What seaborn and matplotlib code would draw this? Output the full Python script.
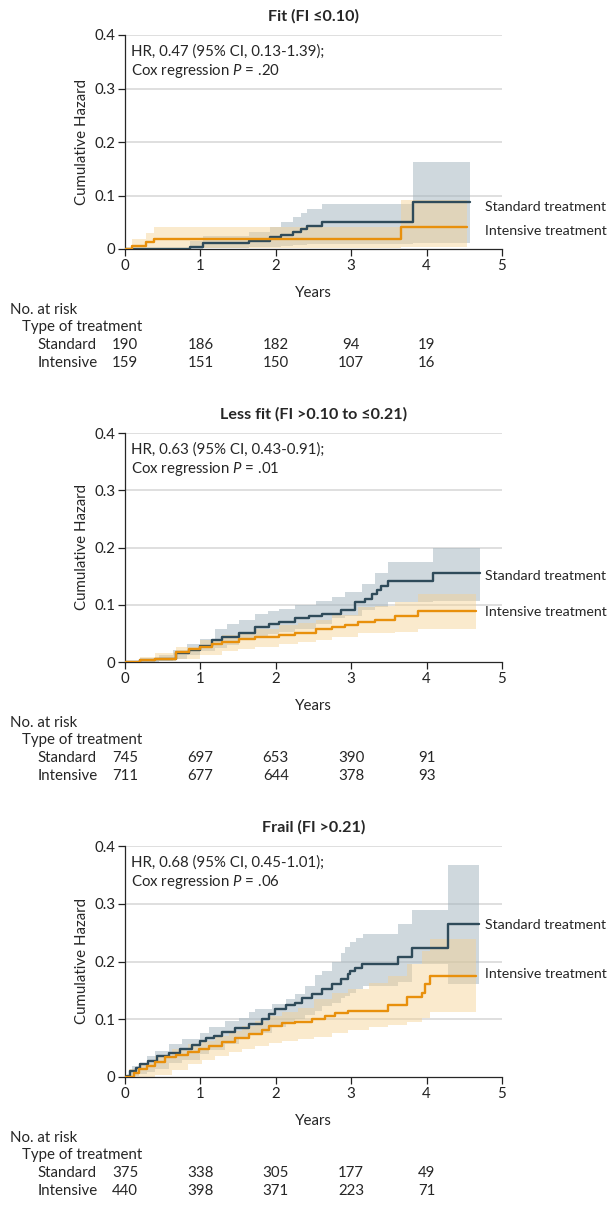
import numpy as np
import matplotlib
matplotlib.use("Agg")
import matplotlib.pyplot as plt
import matplotlib.transforms as mtrans
import pandas as pd
import seaborn as sns

sns.set_style("ticks")
plt.rcParams["font.family"] = ["Lato", "DejaVu Sans"]
plt.rcParams["mathtext.fontset"] = "custom"
plt.rcParams["mathtext.it"] = "Lato:italic"
plt.rcParams["mathtext.rm"] = "Lato"
plt.rcParams["axes.linewidth"] = 0.9
plt.rcParams["xtick.major.width"] = 0.9
plt.rcParams["ytick.major.width"] = 0.9

####data####
titles = ["Fit (FI \u22640.10)", "Less fit (FI >0.10 to \u22640.21)", "Frail (FI >0.21)"]
hr_text = ["HR, 0.47 (95% CI, 0.13-1.39);", "HR, 0.63 (95% CI, 0.43-0.91);", "HR, 0.68 (95% CI, 0.45-1.01);"]
p_text = [".20", ".01", ".06"]
risk_years = [0, 1, 2, 3, 4]
risk_std = [[190, 186, 182, 94, 19], [745, 697, 653, 390, 91], [375, 338, 305, 177, 49]]
risk_int = [[159, 151, 150, 107, 16], [711, 677, 644, 378, 93], [440, 398, 371, 223, 71]]

# fit
fit_std_t = [0, 0.86, 1.03, 1.65, 1.92, 2.07, 2.23, 2.33, 2.41, 2.61, 3.82, 4.58]
fit_std_y = [0, 0.004, 0.011, 0.015, 0.022, 0.027, 0.032, 0.038, 0.043, 0.051, 0.087, 0.087]
fit_std_ci_t = [0.86, 1.03, 1.65, 1.92, 2.07, 2.23, 2.33, 2.41, 2.61, 3.82, 4.58]
fit_std_hi = [0.015, 0.024, 0.032, 0.042, 0.051, 0.059, 0.067, 0.074, 0.084, 0.162, 0.162]
fit_std_lo = [0.0, 0.002, 0.003, 0.004, 0.005, 0.007, 0.008, 0.009, 0.010, 0.011, 0.011]
fit_int_t = [0, 0.09, 0.28, 0.39, 3.66, 4.53]
fit_int_y = [0, 0.006, 0.0125, 0.019, 0.042, 0.042]
fit_int_ci_t = [0.09, 0.28, 0.39, 3.66, 4.53]
fit_int_hi = [0.019, 0.029, 0.041, 0.092, 0.092]
fit_int_lo = [0.0, 0.001, 0.002, 0.004, 0.004]

# less fit
lf_std_t = [0, 0.05, 0.2, 0.4, 0.67, 0.85, 1.0, 1.15, 1.29, 1.51, 1.73, 1.91, 2.04, 2.26, 2.44, 2.61,
            2.87, 3.05, 3.18, 3.27, 3.34, 3.40, 3.49, 4.08, 4.71]
lf_std_y = [0, 0.0, 0.003, 0.006, 0.015, 0.021, 0.028, 0.038, 0.044, 0.051, 0.061, 0.067, 0.070, 0.076,
            0.081, 0.084, 0.090, 0.104, 0.110, 0.119, 0.125, 0.133, 0.141, 0.155, 0.155]
lf_std_ci_t = [0, 0.23, 0.45, 0.63, 0.82, 1.0, 1.2, 1.35, 1.51, 1.73, 1.9, 2.04, 2.26, 2.53, 2.74, 2.92,
               3.14, 3.32, 3.49, 4.08, 4.71]
lf_std_hi = [0.002, 0.006, 0.013, 0.021, 0.031, 0.041, 0.058, 0.066, 0.073, 0.084, 0.089, 0.093, 0.100,
             0.106, 0.113, 0.122, 0.136, 0.156, 0.174, 0.199, 0.199]
lf_std_lo = [0, 0.0, 0.002, 0.006, 0.012, 0.019, 0.024, 0.029, 0.038, 0.044, 0.049, 0.053, 0.058, 0.067,
             0.076, 0.081, 0.09, 0.096, 0.104, 0.107, 0.107]
lf_int_t = [0, 0.2, 0.4, 0.67, 0.85, 1.0, 1.15, 1.29, 1.51, 1.73, 2.04, 2.26, 2.53, 2.74, 2.92, 3.09,
            3.32, 3.58, 3.89, 4.66]
lf_int_y = [0, 0.003, 0.006, 0.017, 0.022, 0.027, 0.031, 0.035, 0.041, 0.044, 0.048, 0.051, 0.057,
            0.061, 0.064, 0.070, 0.074, 0.080, 0.089, 0.089]
lf_int_ci_t = [0, 0.2, 0.4, 0.67, 1.0, 1.29, 1.5, 1.73, 2.04, 2.3, 2.53, 2.74, 3.09, 3.32, 3.58, 3.89, 4.66]
lf_int_hi = [0.002, 0.008, 0.015, 0.027, 0.038, 0.047, 0.053, 0.058, 0.064, 0.068, 0.073, 0.082, 0.096,
             0.098, 0.104, 0.119, 0.119]
lf_int_lo = [0, 0.0, 0.002, 0.006, 0.012, 0.019, 0.023, 0.027, 0.031, 0.035, 0.038, 0.044, 0.05, 0.051,
             0.052, 0.058, 0.058]

# frail
fr_std_t = [0, 0.03, 0.07, 0.14, 0.2, 0.31, 0.42, 0.58, 0.73, 0.89, 1.0, 1.07, 1.18, 1.29, 1.46, 1.64,
            1.82, 1.91, 1.99, 2.13, 2.26, 2.35, 2.48, 2.61, 2.74, 2.87, 2.96, 2.98, 3.05, 3.14, 3.62,
            3.81, 4.29, 4.69]
fr_std_y = [0, 0.001, 0.01, 0.016, 0.022, 0.028, 0.037, 0.042, 0.049, 0.055, 0.063, 0.068, 0.071, 0.078,
            0.084, 0.092, 0.100, 0.109, 0.118, 0.124, 0.129, 0.136, 0.144, 0.152, 0.161, 0.170, 0.178,
            0.184, 0.189, 0.196, 0.208, 0.224, 0.265, 0.265]
fr_std_ci_t = [0, 0.05, 0.09, 0.18, 0.29, 0.40, 0.58, 0.76, 1.0, 1.11, 1.33, 1.51, 1.64, 1.73, 1.95, 2.13,
               2.26, 2.39, 2.52, 2.61, 2.74, 2.87, 2.92, 2.98, 3.07, 3.16, 3.62, 3.81, 4.29, 4.69]
fr_std_hi = [0.003, 0.01, 0.019, 0.025, 0.037, 0.045, 0.057, 0.066, 0.077, 0.086, 0.097, 0.103, 0.112,
             0.118, 0.126, 0.135, 0.144, 0.158, 0.176, 0.184, 0.199, 0.215, 0.225, 0.234, 0.24, 0.248,
             0.265, 0.289, 0.367, 0.367]
fr_std_lo = [0, 0.0, 0.002, 0.005, 0.009, 0.013, 0.024, 0.03, 0.04, 0.046, 0.057, 0.066, 0.072, 0.077,
             0.086, 0.092, 0.1, 0.107, 0.115, 0.123, 0.129, 0.137, 0.141, 0.146, 0.152, 0.158, 0.164,
             0.196, 0.161, 0.161]
fr_int_t = [0, 0.12, 0.18, 0.29, 0.40, 0.53, 0.67, 0.84, 0.98, 1.11, 1.29, 1.46, 1.64, 1.82, 1.91, 2.08,
            2.26, 2.48, 2.65, 2.79, 2.96, 3.49, 3.74, 3.94, 3.98, 4.05, 4.66]
fr_int_y = [0, 0.007, 0.013, 0.019, 0.026, 0.034, 0.038, 0.043, 0.048, 0.054, 0.061, 0.068, 0.074, 0.082,
            0.089, 0.093, 0.096, 0.101, 0.106, 0.110, 0.115, 0.125, 0.138, 0.146, 0.161, 0.175, 0.175]
fr_int_ci_t = [0, 0.05, 0.18, 0.40, 0.62, 0.84, 1.02, 1.2, 1.38, 1.55, 1.73, 1.91, 2.08, 2.3, 2.5, 2.74,
               2.96, 3.23, 3.49, 3.74, 3.94, 4.05, 4.66]
fr_int_hi = [0.004, 0.013, 0.025, 0.037, 0.048, 0.057, 0.063, 0.071, 0.08, 0.089, 0.097, 0.106, 0.112,
             0.12, 0.135, 0.146, 0.152, 0.162, 0.175, 0.196, 0.219, 0.239, 0.239]
fr_int_lo = [0, 0.0, 0.0, 0.004, 0.012, 0.022, 0.03, 0.036, 0.043, 0.049, 0.054, 0.059, 0.063, 0.066,
             0.069, 0.077, 0.082, 0.086, 0.09, 0.096, 0.103, 0.112, 0.112]

panels = [
    (fit_std_t, fit_std_y, fit_std_ci_t, fit_std_lo, fit_std_hi,
     fit_int_t, fit_int_y, fit_int_ci_t, fit_int_lo, fit_int_hi),
    (lf_std_t, lf_std_y, lf_std_ci_t, lf_std_lo, lf_std_hi,
     lf_int_t, lf_int_y, lf_int_ci_t, lf_int_lo, lf_int_hi),
    (fr_std_t, fr_std_y, fr_std_ci_t, fr_std_lo, fr_std_hi,
     fr_int_t, fr_int_y, fr_int_ci_t, fr_int_lo, fr_int_hi),
]
# label y positions (data units) for right-hand curve labels
label_y = [(0.078, 0.034), (0.151, 0.087), (0.263, 0.179)]

####figure settings####
W, H = 613, 1217
fig = plt.figure(figsize=(W / 100, H / 100), dpi=100)
ax_px = [(35, 249), (433, 662), (846, 1077)]
left_px, right_px = 125, 502

c_std = "#2f4b5a"
c_int = "#e8900c"
f_std = "#a1b3bd"
f_int = "#f5d191"
fs = 10.8

for i, (top, bot) in enumerate(ax_px):
    (st, sy, sct, slo, shi, it, iy, ict, ilo, ihi) = panels[i]
    ax = fig.add_axes([left_px / W, 1 - bot / H, (right_px - left_px) / W, (bot - top) / H])

    for yv in [0.1, 0.2, 0.3, 0.4]:
        ax.axhline(yv, color="#dcdcdc", lw=1.3, zorder=0)

    ax.fill_between(sct, slo, shi, step="post", color=f_std, alpha=0.5, lw=0, zorder=1)
    ax.fill_between(ict, ilo, ihi, step="post", color=f_int, alpha=0.45, lw=0, zorder=2)

    df_s = pd.DataFrame({"t": st, "y": sy})
    df_i = pd.DataFrame({"t": it, "y": iy})
    sns.lineplot(data=df_s, x="t", y="y", drawstyle="steps-post", color=c_std, lw=1.7, ax=ax,
                 estimator=None, zorder=3)
    sns.lineplot(data=df_i, x="t", y="y", drawstyle="steps-post", color=c_int, lw=1.7, ax=ax,
                 estimator=None, zorder=4)

    ax.set_xlim(0, 5)
    ax.set_ylim(0, 0.4)
    ax.set_xticks([0, 1, 2, 3, 4, 5])
    ax.set_xticklabels(["0", "1", "2", "3", "4", "5"])
    ax.set_yticks([0, 0.1, 0.2, 0.3, 0.4])
    ax.set_yticklabels(["0", "0.1", "0.2", "0.3", "0.4"])
    ax.tick_params(labelsize=fs, length=5, pad=2, colors="#222222")
    for s in ["top", "right"]:
        ax.spines[s].set_visible(False)
    ax.set_xlabel("")
    ax.set_ylabel("Cumulative Hazard", fontsize=fs, labelpad=4)

    ax.text(4.78, label_y[i][0], "Standard treatment", fontsize=10.2, va="center", ha="left",
            clip_on=False)
    ax.text(4.78, label_y[i][1], "Intensive treatment", fontsize=10.2, va="center", ha="left",
            clip_on=False)

    tr = mtrans.blended_transform_factory(ax.transData, fig.transFigure)
    ax.text(0.08, 1 - (top + 17) / H, hr_text[i], fontsize=fs, transform=tr, va="center")
    ax.text(0.08, 1 - (top + 36) / H, r"Cox regression $P$ = " + p_text[i], fontsize=fs,
            transform=tr, va="center")

    fig.text((left_px + right_px) / 2 / W, 1 - (top - 19) / H, titles[i], fontsize=11.6,
             fontweight="bold", ha="center", va="center")
    ax.text(2.5, 1 - (bot + 44) / H, "Years", fontsize=fs, ha="center", va="center", transform=tr)

    ax.text(-1.52, 1 - (bot + 61) / H, "No. at risk", fontsize=fs, va="center", transform=tr)
    ax.text(-1.37, 1 - (bot + 78) / H, "Type of treatment", fontsize=fs, va="center", transform=tr)
    ax.text(-1.16, 1 - (bot + 96) / H, "Standard", fontsize=fs, va="center", transform=tr)
    ax.text(-1.16, 1 - (bot + 114) / H, "Intensive", fontsize=fs, va="center", transform=tr)
    for x, a, b in zip(risk_years, risk_std[i], risk_int[i]):
        ax.text(x, 1 - (bot + 96) / H, str(a), fontsize=fs, va="center", ha="center", transform=tr)
        ax.text(x, 1 - (bot + 114) / H, str(b), fontsize=fs, va="center", ha="center", transform=tr)

fig.savefig("out.png", dpi=100)
